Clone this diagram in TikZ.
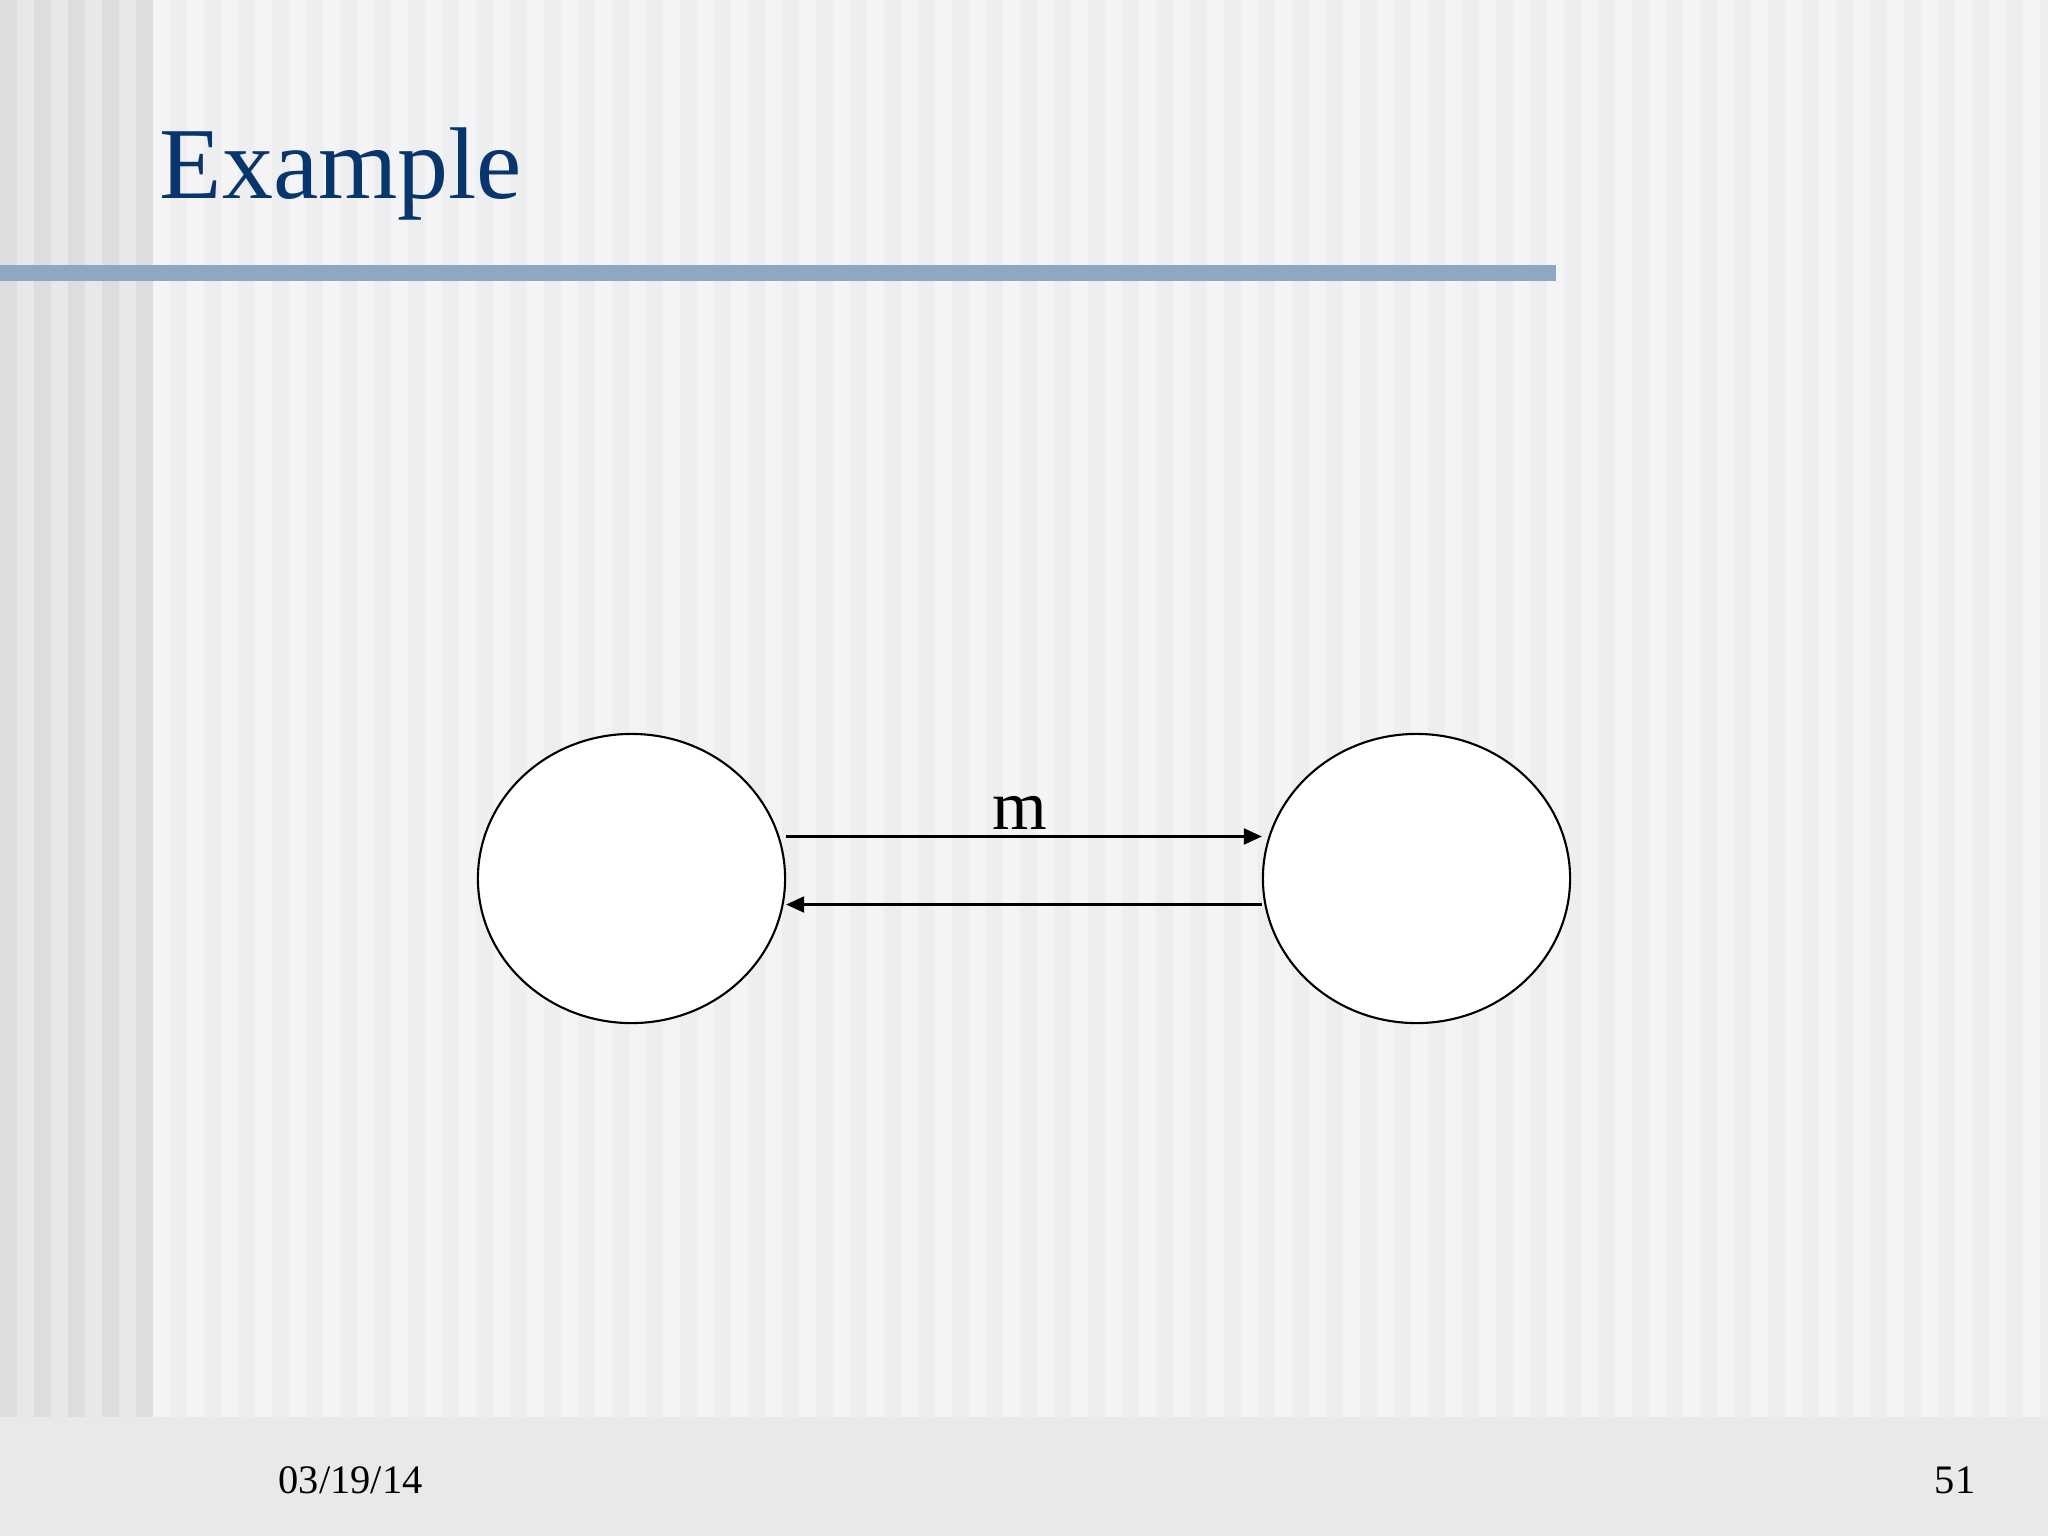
\documentclass[tikz,border=0pt]{standalone}
\usepackage{fontspec}
\setmainfont{Liberation Serif}
\usepackage{tikz}
\usetikzlibrary{arrows.meta,shapes.geometric}
\definecolor{titleblue}{RGB}{8,54,108}
\definecolor{rulecol}{RGB}{143,167,192}
\definecolor{stripedark}{RGB}{238,237,240}
\definecolor{stripelight}{RGB}{244,243,246}
\definecolor{sidedark}{RGB}{221,220,223}
\definecolor{sidelight}{RGB}{232,231,234}
\definecolor{footcol}{RGB}{234,232,235}

\begin{document}
\begin{tikzpicture}[x=0.01cm, y=-0.01cm]
						\useasboundingbox (0,0) rectangle (2048,1536);
						\fill[stripelight] (0,0) rectangle (2048,1417);
						\foreach \k in {0,...,55}
							\fill[stripedark] (170+34*\k,0) rectangle (187+34*\k,1417);
						\fill[sidelight] (0,0) rectangle (153,1417);
						\foreach \k in {0,...,4}
							\fill[sidedark] (34*\k,0) rectangle (17+34*\k,1417);
						\fill[footcol] (0,1417) rectangle (2048,1536);
						\fill[rulecol] (0,265) rectangle (1556,281);
						\node[anchor=base west, inner sep=0, text=titleblue, font=\fontsize{29}{34}\selectfont] (title) at (159,198) {Example};
						\node[ellipse, draw, fill=white, line width=0.6pt, inner sep=0, minimum width=3.07cm, minimum height=2.89cm] (a) at (631.5,878.5) {};
						\node[ellipse, draw, fill=white, line width=0.6pt, inner sep=0, minimum width=3.07cm, minimum height=2.89cm] (b) at (1416.5,878.5) {};
						\draw[-{Triangle[length=0.18cm, width=0.16cm]}, line width=0.6pt] ([yshift=0.42cm]a.east) -- ([yshift=0.42cm]b.west) node[midway, above=0.06cm, xshift=-0.04cm, inner sep=0, font=\fontsize{20}{24}\selectfont] (mlabel) {m};
						\draw[-{Triangle[length=0.18cm, width=0.16cm]}, line width=0.6pt] ([yshift=-0.26cm]b.west) -- ([yshift=-0.26cm]a.east);
						\node[anchor=base west, inner sep=0, font=\fontsize{11.5}{14}\selectfont] (date) at (278,1493) {03/19/14};
						\node[anchor=base east, inner sep=0, font=\fontsize{11.5}{14}\selectfont] (page) at (1976,1493) {51};
					\end{tikzpicture}
\end{document}
